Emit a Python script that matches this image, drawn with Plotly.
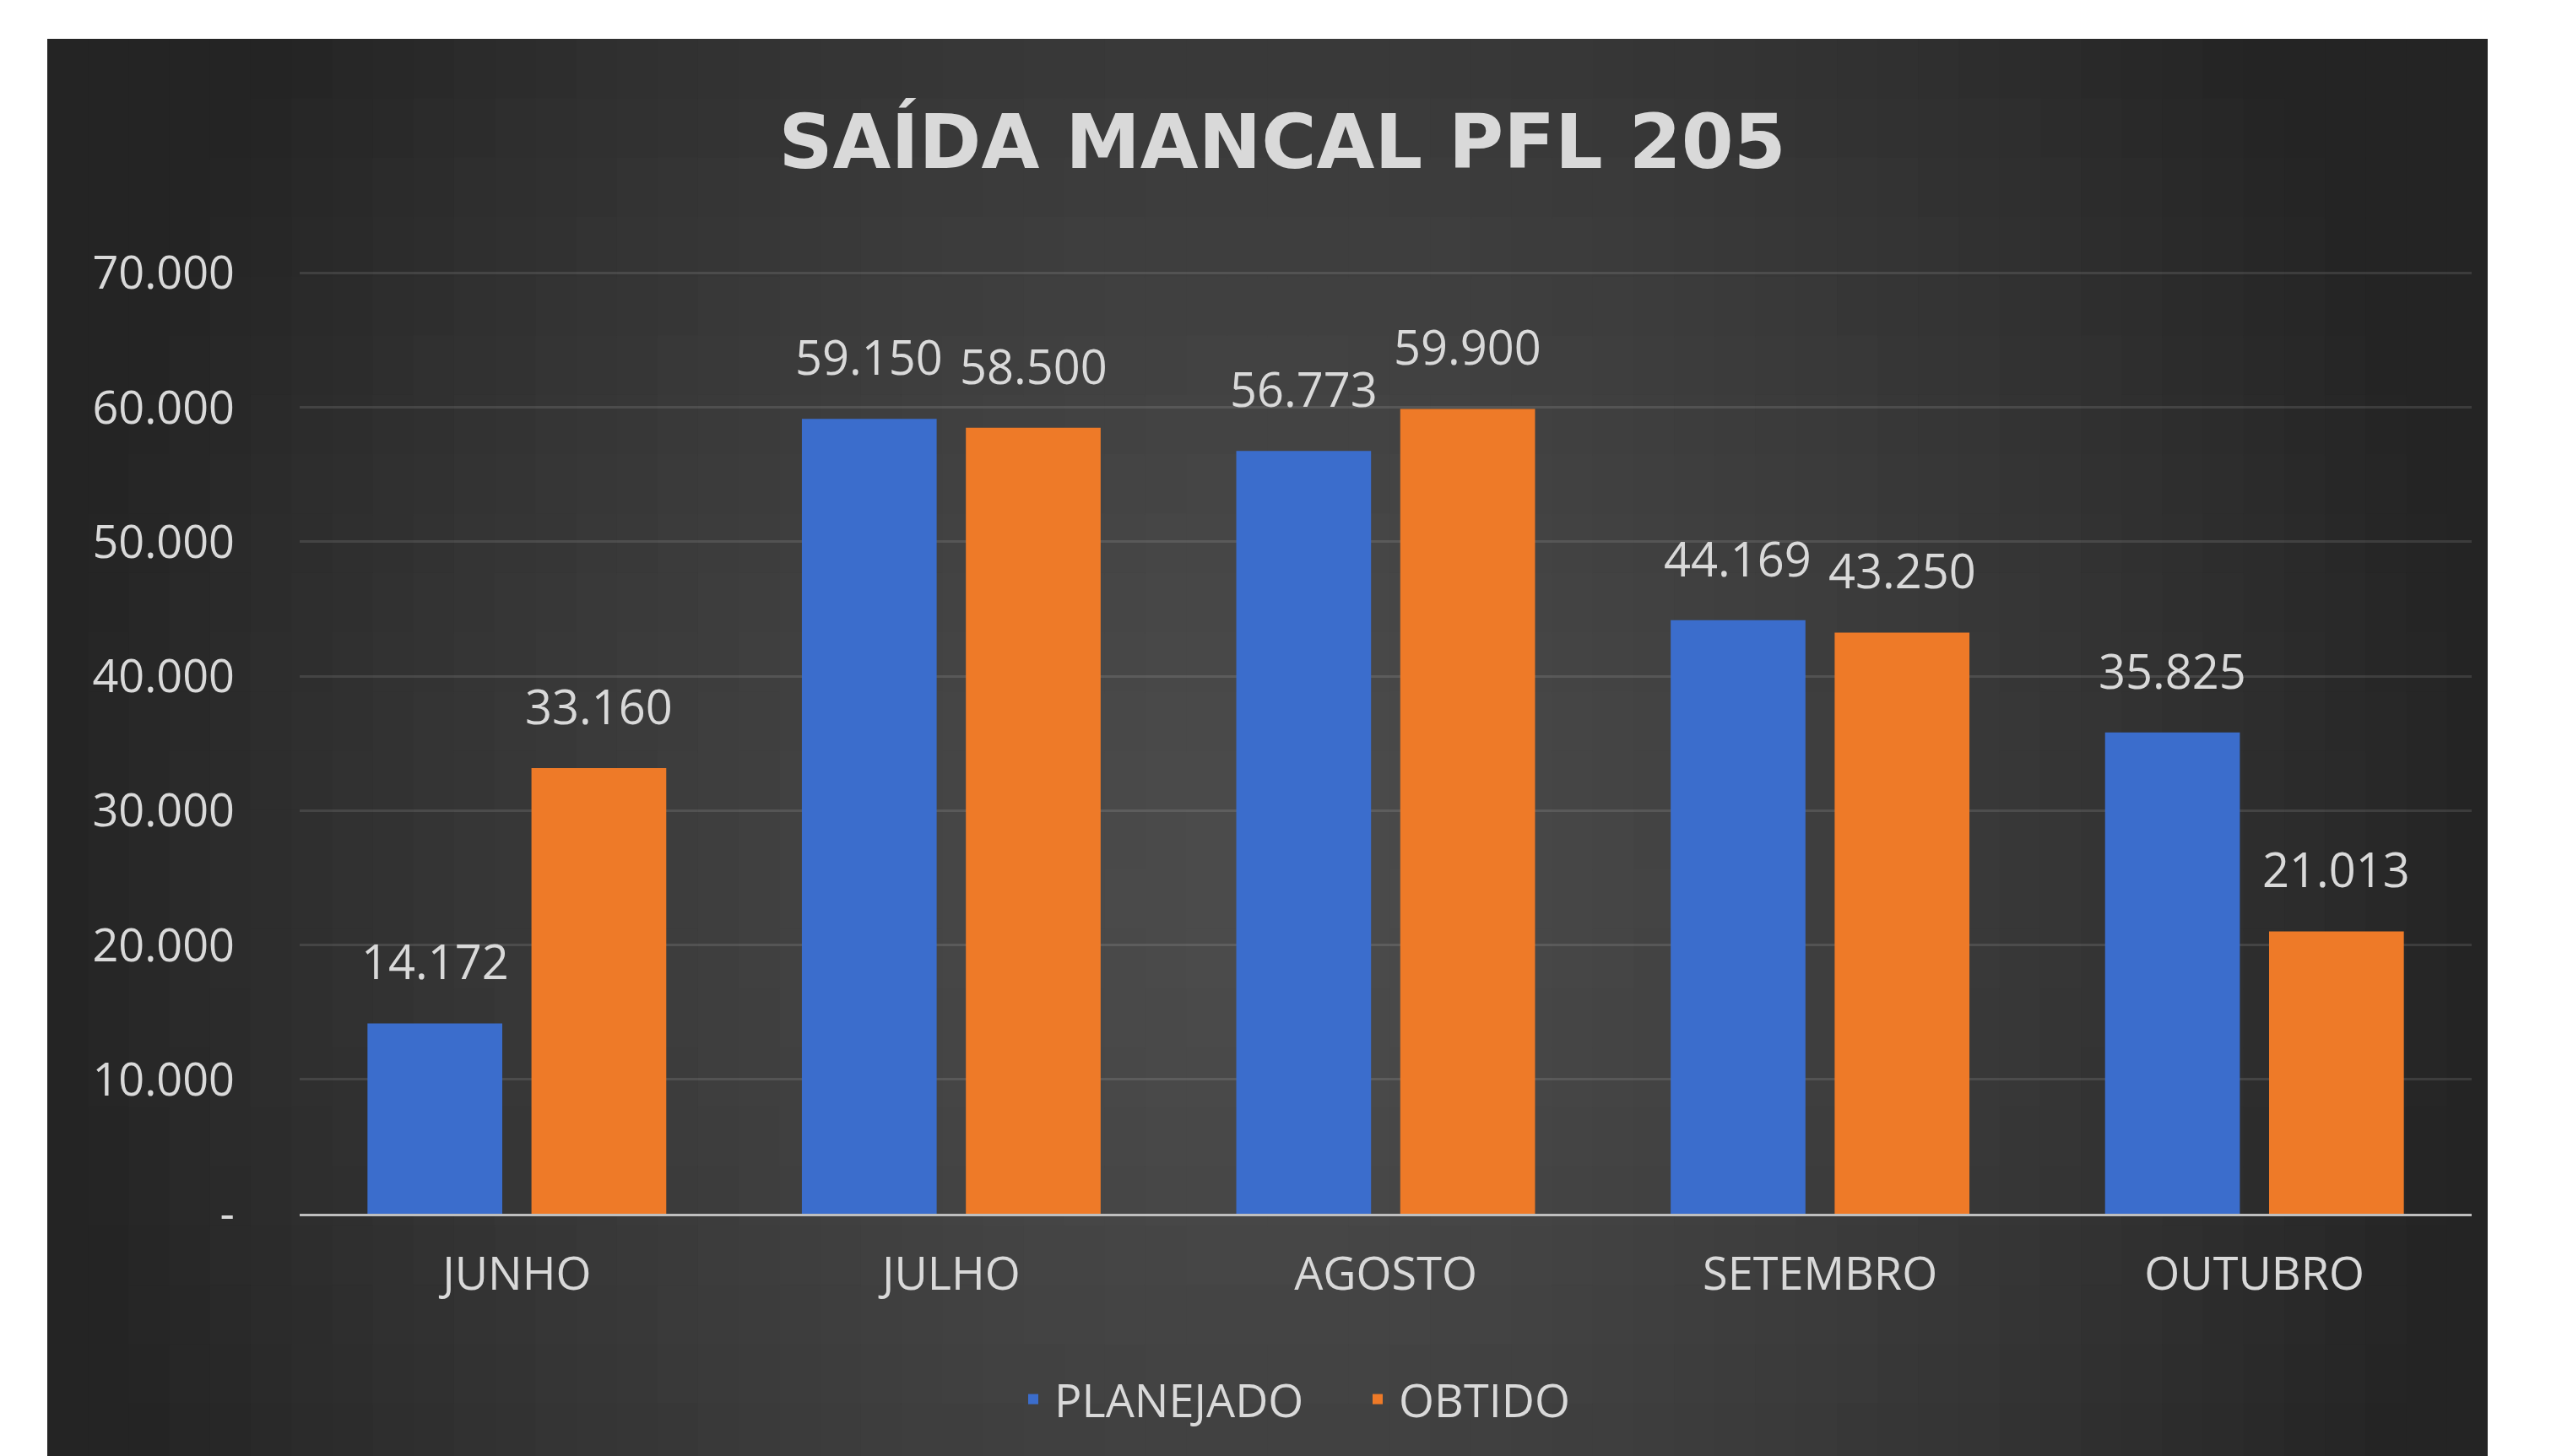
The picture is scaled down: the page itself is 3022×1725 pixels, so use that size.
import plotly.graph_objects as go

# ---- data ----
months = ["JUNHO", "JULHO", "AGOSTO", "SETEMBRO", "OUTUBRO"]
planejado = [14172, 59150, 56773, 44169, 35825]
obtido = [33160, 58500, 59900, 43250, 21013]
y_tickvals = [0, 10000, 20000, 30000, 40000, 50000, 60000, 70000]
y_ticktext = ["-", "10.000", "20.000", "30.000", "40.000", "50.000", "60.000", "70.000"]

W, H = 3022, 1725
ML, MR, MT, MB = 347, 102, 314, 295
PW, PH = W - ML - MR, H - MT - MB

FONT = "Open Sans"
TXT = "#d9d9d9"
BLUE = "#3b6dcc"
ORANGE = "#ee7a28"
BARGAP = 0.245
BARGROUPGAP = 0.178

def fmt(v):
    return "{:,}".format(v).replace(",", ".")

fig = go.Figure()
fig.add_trace(go.Bar(name="PLANEJADO", x=months, y=planejado,
                     marker=dict(color=BLUE, line=dict(width=0))))
fig.add_trace(go.Bar(name="OBTIDO", x=months, y=obtido,
                     marker=dict(color=ORANGE, line=dict(width=0))))

# data labels above bars (offset to each bar of the group)
slot = PW / len(months) * (1 - BARGAP) / 2
annotations = []
for series, sign in ((planejado, -1), (obtido, 1)):
    for m, v in zip(months, series):
        annotations.append(dict(
            x=m, y=v, xref="x", yref="y", text=fmt(v), showarrow=False,
            xshift=sign * slot / 2, yshift=74, yanchor="middle", xanchor="center",
            font=dict(family=FONT, size=56, color=TXT),
        ))

# background panel with radial-ish gradient (decorative)
def px_to_paper_x(px):
    return (px - ML) / PW

def px_to_paper_y(py):
    return (H - MB - py) / PH

X0, X1, Y0, Y1 = 48, 2939, 38, 1725
shapes = []
NC, NR = 60, 24
cw = (X1 - X0) / NC
rh = (Y1 - Y0) / NR
for i in range(NC):
    for j in range(NR):
        cx = (i + 0.5) / NC
        cy = (j + 0.5) / NR
        dx = (cx - 0.5) / 0.5
        dy = (cy - 0.6) / 0.6
        r = (dx * dx + 0.35 * dy * dy) ** 0.5
        v = 76 - 40 * min(r, 1.2) ** 1.4
        v = int(max(36, min(78, v)))
        c = "rgb(%d,%d,%d)" % (v, v, v)
        xa = X0 + i * cw
        xb = min(X1, xa + cw + 2)
        ya = Y0 + j * rh
        yb = min(Y1, ya + rh + 2)
        shapes.append(dict(
            type="rect", xref="paper", yref="paper", layer="below",
            x0=px_to_paper_x(xa), x1=px_to_paper_x(xb),
            y0=px_to_paper_y(yb), y1=px_to_paper_y(ya),
            fillcolor=c, line=dict(width=0),
        ))

fig.update_layout(
    width=W, height=H, autosize=False,
    margin=dict(l=ML, r=MR, t=MT, b=MB, pad=0),
    paper_bgcolor="white", plot_bgcolor="rgba(0,0,0,0)",
    separators=",.",
    shapes=shapes, annotations=annotations,
    barmode="group", bargap=BARGAP, bargroupgap=BARGROUPGAP,
    title=dict(text="<b>SAÍDA MANCAL PFL 205</b>", x=0.5, xref="container", xanchor="center",
               y=1 - 160 / H, yref="container", yanchor="middle",
               font=dict(family="DejaVu Sans", size=89, color=TXT)),
    legend=dict(orientation="h", x=1599 / W, xref="container", xanchor="center",
                y=1 - 1650 / H, yref="container", yanchor="middle",
                font=dict(family=FONT, size=54, color=TXT), bgcolor="rgba(0,0,0,0)",
                itemwidth=40, entrywidth=353, entrywidthmode="pixels",
                traceorder="normal"),
    xaxis=dict(showgrid=False, showline=True, linecolor="#bfbfbf", linewidth=3,
               ticks="", ticklabelstandoff=22,
               tickfont=dict(family=FONT, size=54, color=TXT)),
    yaxis=dict(range=[0, 70100], tickvals=y_tickvals, ticktext=y_ticktext,
               showgrid=True, gridcolor="rgba(255,255,255,0.11)", gridwidth=3,
               zeroline=False, showline=False, ticks="", ticklabelstandoff=76,
               tickfont=dict(family=FONT, size=54, color=TXT)),
)

fig.write_html("out.html")
